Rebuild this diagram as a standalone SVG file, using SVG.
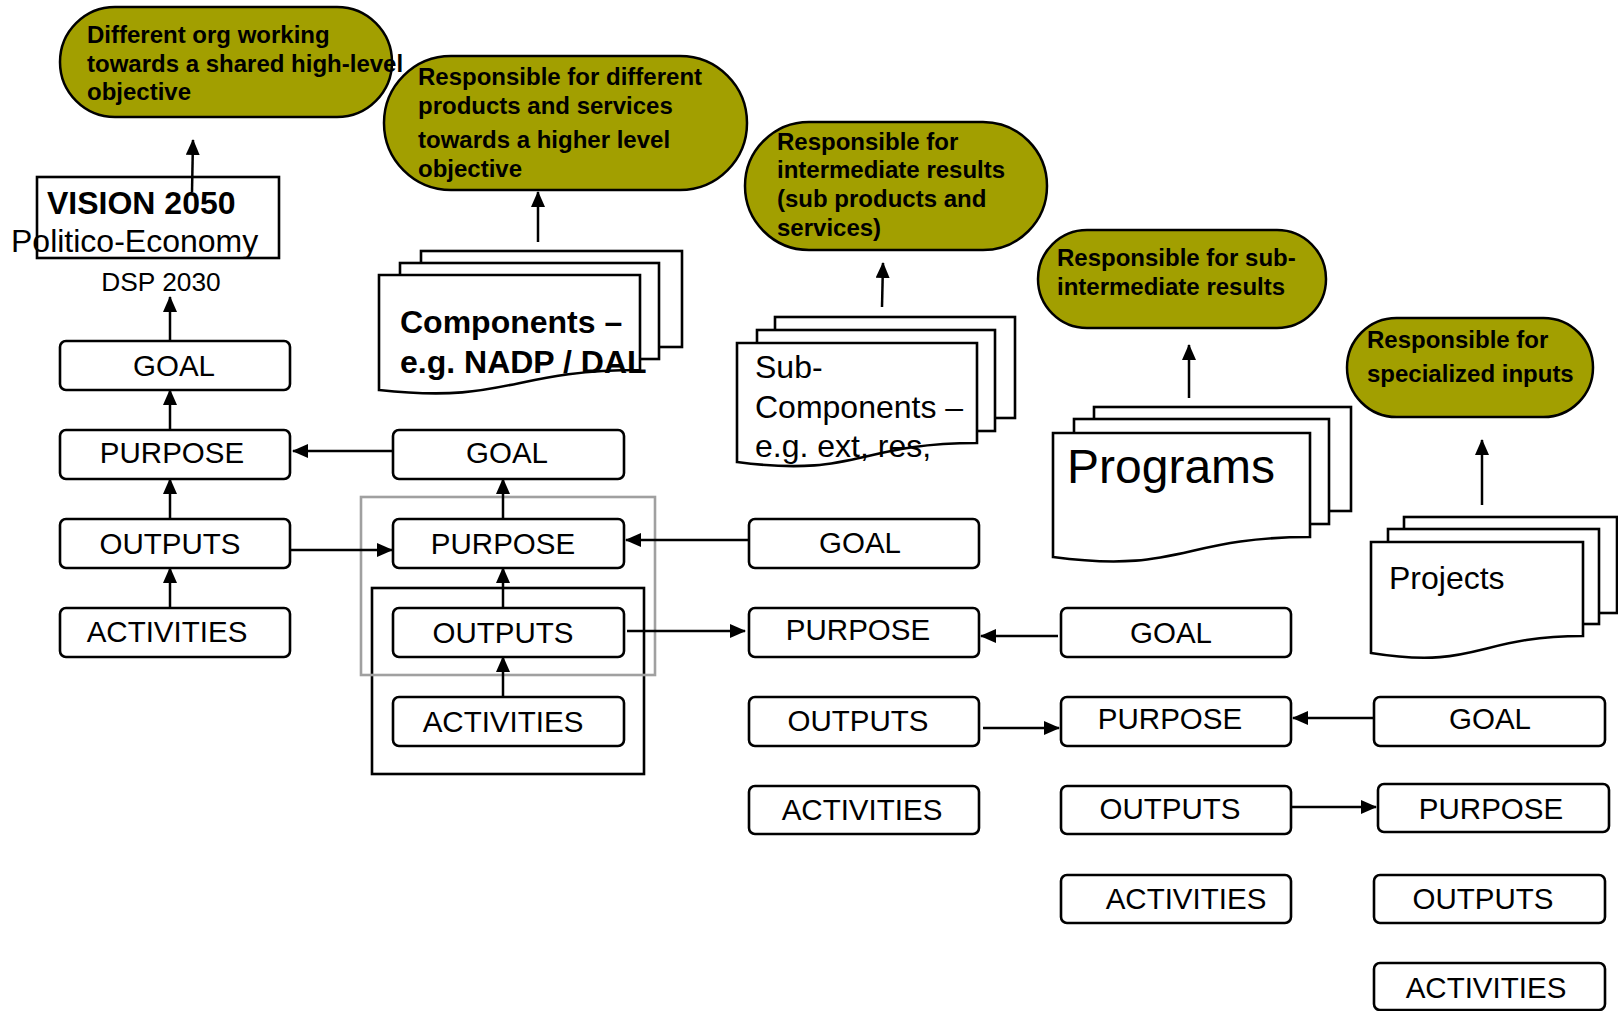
<svg xmlns="http://www.w3.org/2000/svg" width="1618" height="1011" viewBox="0 0 1618 1011">
<defs>
<style>
.pill{fill:#A29F00;stroke:#000;stroke-width:2.5}
.pt{font-family:"Liberation Sans",Arial,sans-serif;font-weight:bold;font-size:24px;fill:#000}
.box{fill:#fff;stroke:#000;stroke-width:2.6}
.bt{font-family:"Liberation Sans",Arial,sans-serif;font-size:29.5px;fill:#000;text-anchor:middle}
.doc{fill:#fff;stroke:#000;stroke-width:2.6}
.dt{font-family:"Liberation Sans",Arial,sans-serif;fill:#000}
.conn{stroke:#000;stroke-width:2.5;fill:none;marker-end:url(#ah)}
</style>
<marker id="ah" markerUnits="userSpaceOnUse" viewBox="0 0 16 14" refX="15" refY="7" markerWidth="16" markerHeight="14" orient="auto">
<path d="M0,0 L16,7 L0,14 Z" fill="#000"/>
</marker>
</defs>
<rect width="1618" height="1011" fill="#fff"/>

<g id="group-frames">
<rect x="372" y="588" width="272" height="186" fill="none" stroke="#000" stroke-width="2.6"/>
<rect x="361" y="497" width="294" height="178" fill="none" stroke="#A0A0A0" stroke-width="2.6"/>
</g>

<g id="pill2"><rect class="pill" x="384" y="56" width="363" height="134" rx="67"/>
<text class="pt" x="418" y="85">Responsible for different</text>
<text class="pt" x="418" y="114">products and services</text>
<text class="pt" x="418" y="148">towards a higher level</text>
<text class="pt" x="418" y="177">objective</text></g>
<g id="pill1"><rect class="pill" x="60" y="7" width="332" height="110" rx="55"/>
<text class="pt" x="87" y="43">Different org working</text>
<text class="pt" x="87" y="72">towards a shared high-level</text>
<text class="pt" x="87" y="100">objective</text></g>
<g id="pill3"><rect class="pill" x="745" y="122" width="302" height="128" rx="64"/>
<text class="pt" x="777" y="150">Responsible for</text>
<text class="pt" x="777" y="178">intermediate results</text>
<text class="pt" x="777" y="207">(sub products and</text>
<text class="pt" x="777" y="236">services)</text></g>
<g id="pill4"><rect class="pill" x="1038" y="230" width="288" height="98" rx="49"/>
<text class="pt" x="1057" y="266">Responsible for sub-</text>
<text class="pt" x="1057" y="295">intermediate results</text></g>
<g id="pill5"><rect class="pill" x="1347" y="318" width="246" height="99" rx="49.5"/>
<text class="pt" x="1367" y="348">Responsible for</text>
<text class="pt" x="1367" y="382">specialized inputs</text></g>

<g id="vision"><rect x="37" y="177" width="242" height="81" fill="#fff" stroke="#000" stroke-width="2.6"/>
<text class="dt" x="47" y="214" font-size="32" font-weight="bold">VISION 2050</text>
<text class="dt" x="11" y="252" font-size="32">Politico-Economy</text></g>
<g id="dsp"><text class="dt" x="161" y="291" font-size="26.3" text-anchor="middle">DSP 2030</text></g>

<g id="components">
<rect class="doc" x="421" y="251" width="261" height="96"/>
<rect class="doc" x="400" y="263" width="259" height="96"/>
<path class="doc" d="M379,275 H640 V370 C509,370 509,404 379,390 Z"/>
<text class="dt" x="400" y="333" font-size="32" font-weight="bold">Components –</text>
<text class="dt" x="400" y="373" font-size="32" font-weight="bold">e.g. NADP / DAL</text></g>

<g id="subcomponents">
<rect class="doc" x="775" y="317" width="240" height="101"/>
<rect class="doc" x="757" y="330" width="238" height="101"/>
<path class="doc" d="M737,343 H977 V443 C857,443 857,478 737,462 Z"/>
<text class="dt" x="755" y="378" font-size="32">Sub-</text>
<text class="dt" x="755" y="418" font-size="32">Components –</text>
<text class="dt" x="755" y="457" font-size="32">e.g. ext, res,</text></g>

<g id="programs">
<rect class="doc" x="1094" y="407" width="257" height="104"/>
<rect class="doc" x="1074" y="419" width="255" height="105"/>
<path class="doc" d="M1053,433 H1310 V537 C1181,537 1181,574 1053,557 Z"/>
<text class="dt" x="1067" y="483" font-size="48">Programs</text></g>

<g id="projects">
<rect class="doc" x="1404" y="517" width="213" height="96"/>
<rect class="doc" x="1388" y="529" width="211" height="95"/>
<path class="doc" d="M1371,542 H1583 V636 C1477,636 1477,670 1371,653 Z"/>
<text class="dt" x="1389" y="589" font-size="32">Projects</text></g>

<g id="c1-goal"><rect class="box" x="60" y="341" width="230" height="49" rx="6"/><text class="bt" x="174" y="376">GOAL</text></g>
<g id="c1-purpose"><rect class="box" x="60" y="430" width="230" height="49" rx="6"/><text class="bt" x="172" y="463">PURPOSE</text></g>
<g id="c1-outputs"><rect class="box" x="60" y="519" width="230" height="49" rx="6"/><text class="bt" x="170" y="554">OUTPUTS</text></g>
<g id="c1-activities"><rect class="box" x="60" y="608" width="230" height="49" rx="6"/><text class="bt" x="167" y="642">ACTIVITIES</text></g>

<g id="c2-goal"><rect class="box" x="393" y="430" width="231" height="49" rx="6"/><text class="bt" x="507" y="463">GOAL</text></g>
<g id="c2-purpose"><rect class="box" x="393" y="519" width="231" height="49" rx="6"/><text class="bt" x="503" y="554">PURPOSE</text></g>
<g id="c2-outputs"><rect class="box" x="393" y="608" width="231" height="49" rx="6"/><text class="bt" x="503" y="643">OUTPUTS</text></g>
<g id="c2-activities"><rect class="box" x="393" y="697" width="231" height="49" rx="6"/><text class="bt" x="503" y="732">ACTIVITIES</text></g>

<g id="c3-goal"><rect class="box" x="749" y="519" width="230" height="49" rx="6"/><text class="bt" x="860" y="553">GOAL</text></g>
<g id="c3-purpose"><rect class="box" x="749" y="608" width="230" height="49" rx="6"/><text class="bt" x="858" y="640">PURPOSE</text></g>
<g id="c3-outputs"><rect class="box" x="749" y="697" width="230" height="49" rx="6"/><text class="bt" x="858" y="731">OUTPUTS</text></g>
<g id="c3-activities"><rect class="box" x="749" y="786" width="230" height="48" rx="6"/><text class="bt" x="862" y="820">ACTIVITIES</text></g>

<g id="c4-goal"><rect class="box" x="1061" y="608" width="230" height="49" rx="6"/><text class="bt" x="1171" y="643">GOAL</text></g>
<g id="c4-purpose"><rect class="box" x="1061" y="697" width="230" height="49" rx="6"/><text class="bt" x="1170" y="729">PURPOSE</text></g>
<g id="c4-outputs"><rect class="box" x="1061" y="786" width="230" height="48" rx="6"/><text class="bt" x="1170" y="819">OUTPUTS</text></g>
<g id="c4-activities"><rect class="box" x="1061" y="875" width="230" height="48" rx="6"/><text class="bt" x="1186" y="909">ACTIVITIES</text></g>

<g id="c5-goal"><rect class="box" x="1374" y="697" width="231" height="49" rx="6"/><text class="bt" x="1490" y="729">GOAL</text></g>
<g id="c5-purpose"><rect class="box" x="1378" y="784" width="231" height="48" rx="6"/><text class="bt" x="1491" y="819">PURPOSE</text></g>
<g id="c5-outputs"><rect class="box" x="1374" y="875" width="231" height="48" rx="6"/><text class="bt" x="1483" y="909">OUTPUTS</text></g>
<g id="c5-activities"><rect class="box" x="1374" y="963" width="231" height="47" rx="6"/><text class="bt" x="1486" y="998">ACTIVITIES</text></g>

<g id="connectors">
<line class="conn" x1="170" y1="608" x2="170" y2="568"/>
<line class="conn" x1="170" y1="519" x2="170" y2="479"/>
<line class="conn" x1="170" y1="430" x2="170" y2="390"/>
<line class="conn" x1="170" y1="341" x2="170" y2="297"/>
<line class="conn" x1="192" y1="192" x2="193" y2="140"/>
<line class="conn" x1="393" y1="451" x2="293" y2="451"/>
<line class="conn" x1="290" y1="550" x2="392" y2="550"/>
<line class="conn" x1="503" y1="697" x2="503" y2="657"/>
<line class="conn" x1="503" y1="608" x2="503" y2="568"/>
<line class="conn" x1="503" y1="519" x2="503" y2="479"/>
<line class="conn" x1="748" y1="540" x2="626" y2="540"/>
<line class="conn" x1="627" y1="631" x2="745" y2="631"/>
<line class="conn" x1="1058" y1="636" x2="981" y2="636"/>
<line class="conn" x1="983" y1="728" x2="1059" y2="728"/>
<line class="conn" x1="1373" y1="718" x2="1293" y2="718"/>
<line class="conn" x1="1291" y1="807" x2="1376" y2="807"/>
<line class="conn" x1="538" y1="242" x2="538" y2="192"/>
<line class="conn" x1="882" y1="307" x2="883" y2="263"/>
<line class="conn" x1="1189" y1="398" x2="1189" y2="345"/>
<line class="conn" x1="1482" y1="505" x2="1482" y2="440"/>
</g>
</svg>
